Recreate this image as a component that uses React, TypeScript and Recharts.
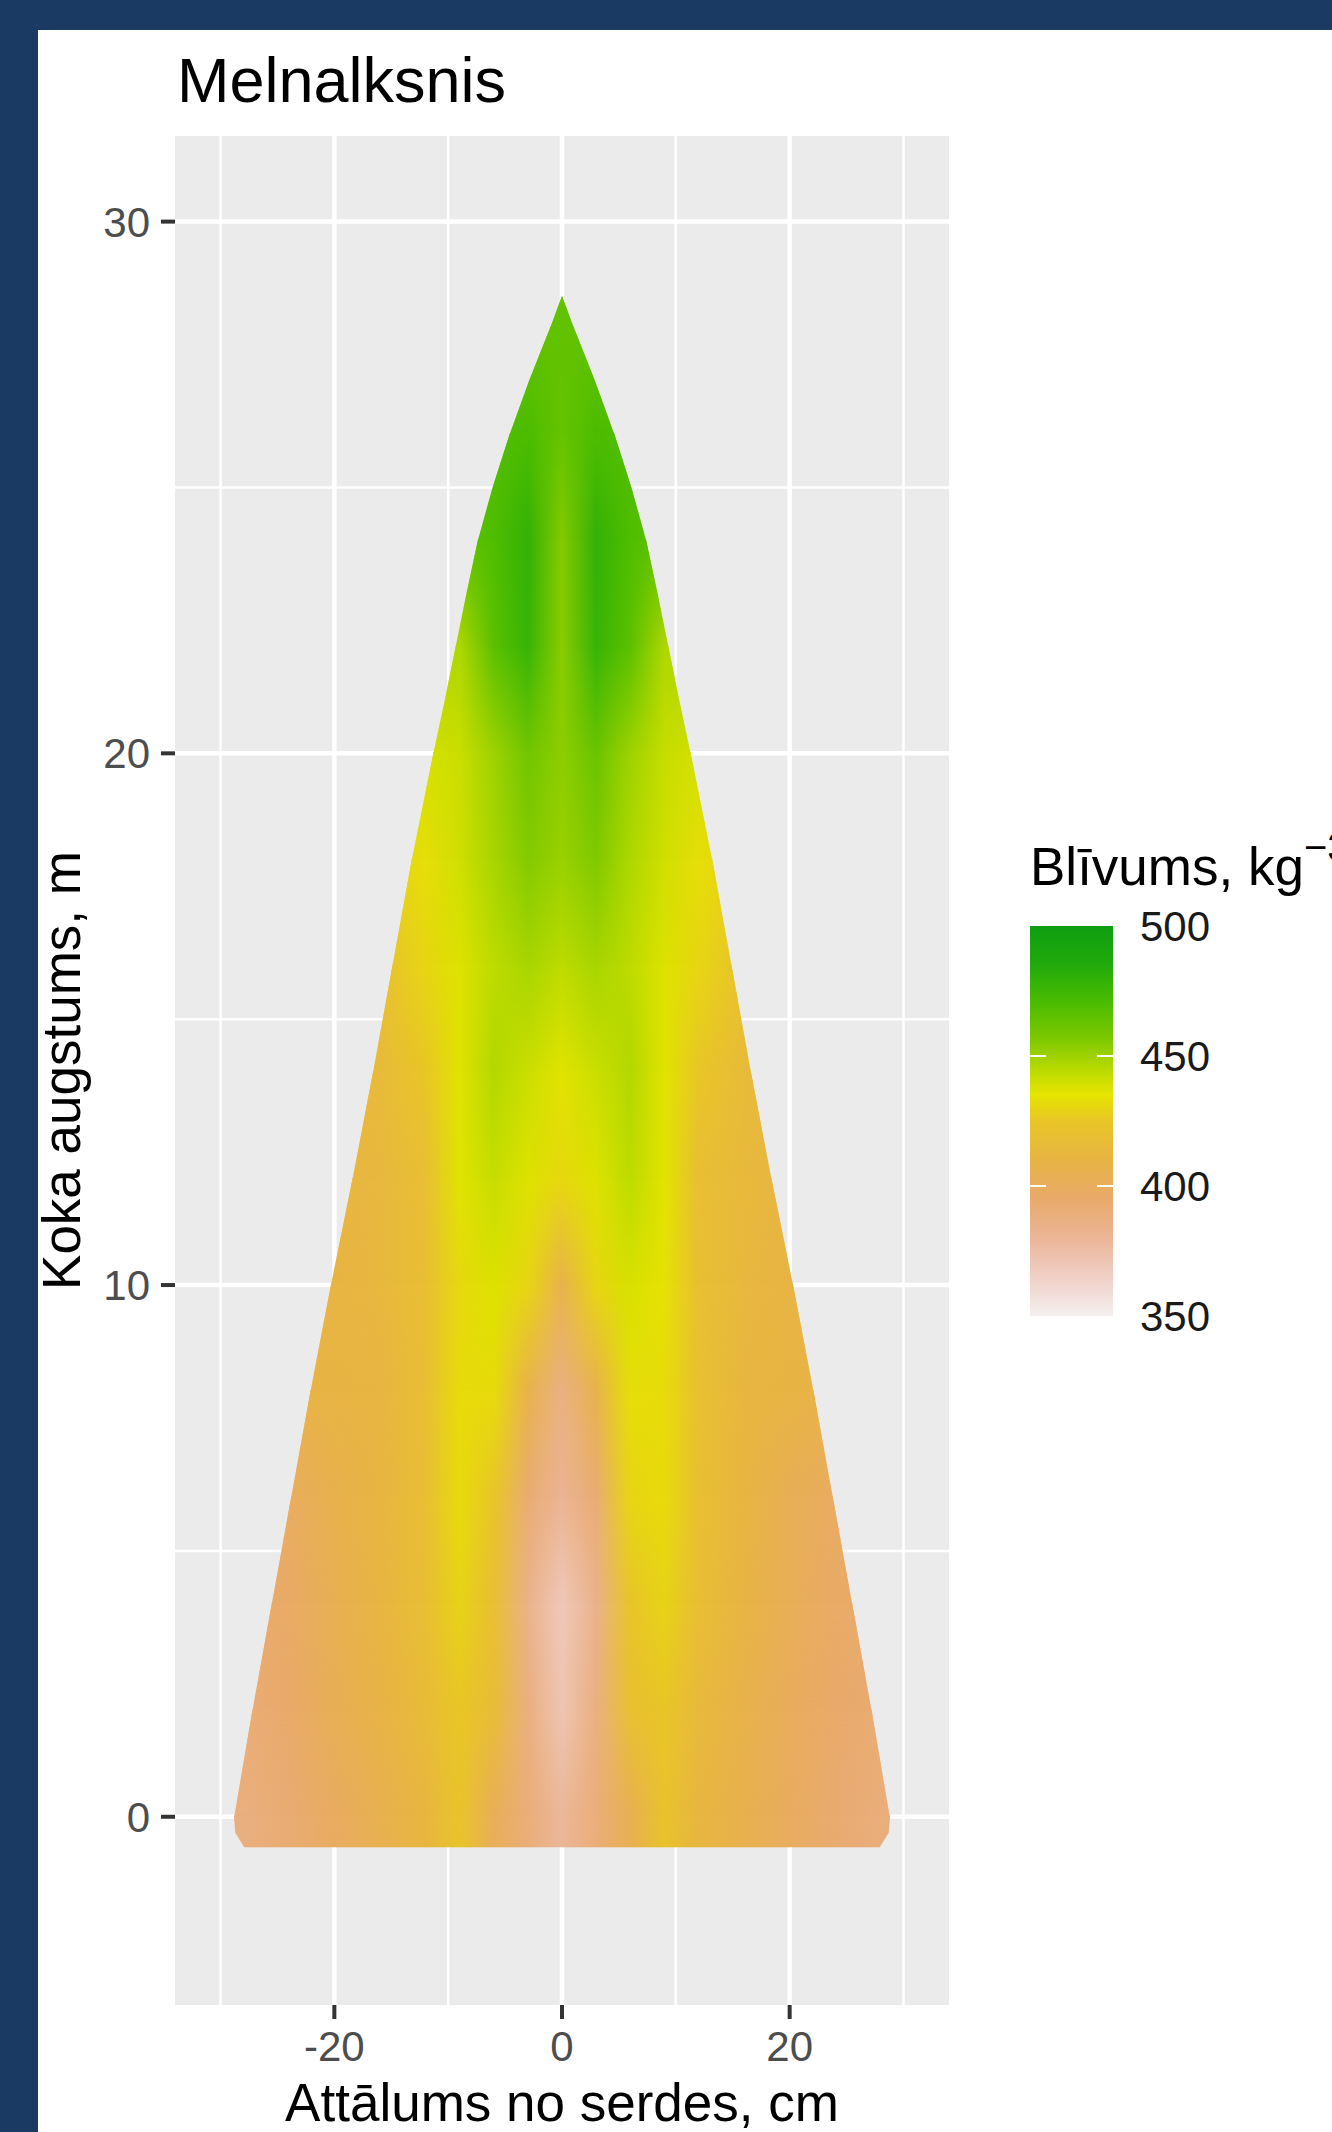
import React from 'react';
import { ScatterChart, Scatter, XAxis, YAxis, CartesianGrid, ReferenceArea, Legend } from 'recharts';

const FONT = "'Liberation Sans', Arial, Helvetica, sans-serif";

const TITLE = 'Melnalksnis';
const X_LABEL = 'Attālums no serdes, cm';
const Y_LABEL = 'Koka augstums, m';
const LEGEND_TITLE = 'Blīvums, kg';
const LEGEND_SUP = '−3';

const X_TICKS = [-20, 0, 20];
const X_MINOR = [-30, -10, 10, 30];
const Y_TICKS = [0, 10, 20, 30];
const Y_MINOR = [5, 15, 25];
const X_DOMAIN: [number, number] = [-34, 34];
const Y_DOMAIN: [number, number] = [-3.54, 31.61];

// distance from pith (cm) of each density column
const COLS = [-28, -24, -20, -16, -12, -9, -6, -3, 0, 3, 6, 9, 12, 16, 20, 24, 28];

// stem heights (m) of the density rows
const HEIGHTS = [0, 2, 4, 6, 8, 10, 12, 14, 16, 18, 20, 22, 24, 26, 28];

// density (kg m-3), one row per stem height
const ROW_00 = [388, 392, 398, 405, 412, 423, 402, 390, 379, 390, 404, 422, 412, 406, 399, 393, 389];
const ROW_02 = [391, 395, 403, 409, 416, 425, 417, 388, 371, 388, 420, 424, 414, 407, 400, 395, 392];
const ROW_04 = [394, 396, 404, 411, 418, 429, 419, 384, 369, 384, 424, 429, 418, 410, 402, 396, 394];
const ROW_06 = [null, 399, 406, 411, 418, 432, 424, 392, 381, 392, 430, 432, 419, 411, 403, 398, null];
const ROW_08 = [null, 408, 410, 411, 418, 432, 432, 407, 387, 407, 433, 432, 420, 412, 410, 408, null];
const ROW_10 = [null, null, 410, 413, 418, 431, 437, 430, 407, 430, 438, 434, 419, 413, 410, null, null];
const ROW_12 = [null, null, 411, 413, 418, 436, 442, 437, 431, 437, 444, 436, 418, 414, 411, null, null];
const ROW_14 = [null, null, null, 415, 425, 436, 446, 441, 436, 441, 446, 436, 425, 415, null, null, null];
const ROW_16 = [null, null, null, 419, 430, 437, 444, 448, 444, 448, 444, 437, 430, 421, null, null, null];
const ROW_18 = [null, null, null, 428, 433, 440, 448, 455, 451, 456, 447, 440, 433, 429, null, null, null];
const ROW_20 = [null, null, null, null, 439, 441, 450, 460, 453, 462, 450, 442, 439, null, null, null, null];
const ROW_22 = [null, null, null, null, null, 447, 466, 477, 454, 477, 466, 447, null, null, null, null, null];
const ROW_24 = [null, null, null, null, null, 465, 469, 479, 455, 479, 469, 465, null, null, null, null, null];
const ROW_26 = [null, null, null, null, null, null, 468, 470, 463, 470, 468, null, null, null, null, null, null];
const ROW_28 = [null, null, null, null, null, null, null, 464, 464, 464, null, null, null, null, null, null, null];

const DENSITY_ROWS: (number | null)[][] = [
  ROW_00, ROW_02, ROW_04, ROW_06, ROW_08, ROW_10, ROW_12, ROW_14,
  ROW_16, ROW_18, ROW_20, ROW_22, ROW_24, ROW_26, ROW_28,
];

// stem outline: height (m) and half-width (cm)
const OUTLINE_H = [-0.58, -0.3, 0, 2, 4, 6, 8, 10, 12, 14, 16, 18, 20, 21, 22, 23, 24, 25, 26, 27, 28, 28.6];
const OUTLINE_W = [27.9, 28.7, 28.8, 27.2, 25.5, 23.8, 22.1, 20.3, 18.4, 16.6, 14.9, 13.2, 11.3, 10.3, 9.35, 8.4, 7.4, 6.1, 4.6, 2.9, 1.05, 0.0];

// colour bar
const LEGEND_TICKS = [500, 450, 400, 350];
const LEGEND_MIN = 350;
const LEGEND_MAX = 500;
const PAL_V = [350, 365, 380, 395, 410, 425, 435, 445, 455, 470, 485, 500];
const PAL_C = ['#f4f0f0', '#f0cfc6', '#ebb597', '#e9aa6a', '#e8b444', '#e8c626', '#e6e400', '#b8da00', '#84ca00', '#4cbc00', '#22aa0c', '#0e9e10'];

function hexRgb(h: string) {
  return [parseInt(h.slice(1, 3), 16), parseInt(h.slice(3, 5), 16), parseInt(h.slice(5, 7), 16)];
}
function densityColor(v: number) {
  const vv = Math.max(PAL_V[0], Math.min(PAL_V[PAL_V.length - 1], v));
  let i = 0;
  while (i < PAL_V.length - 2 && vv > PAL_V[i + 1]) i++;
  const t = (vv - PAL_V[i]) / (PAL_V[i + 1] - PAL_V[i]);
  const a = hexRgb(PAL_C[i]);
  const b = hexRgb(PAL_C[i + 1]);
  const c = a.map((x, k) => Math.round(x + (b[k] - x) * t));
  return `rgb(${c[0]},${c[1]},${c[2]})`;
}

const HALF_W = Math.max(...OUTLINE_W) + 0.4;
const H_BOT = OUTLINE_H[0];
const H_TOP = OUTLINE_H[OUTLINE_H.length - 1];

type Band = { k: number; hb: number; ht: number; lo: (number | null)[]; hi: (number | null)[] };
const BAND_EDGES = [H_BOT, ...HEIGHTS, H_TOP];
const BANDS: Band[] = BAND_EDGES.slice(0, -1).map((hb, k) => {
  const last = DENSITY_ROWS.length - 1;
  const lo = DENSITY_ROWS[Math.max(0, Math.min(k - 1, last))];
  const hi = DENSITY_ROWS[Math.min(k, last)];
  return { k, hb, ht: BAND_EDGES[k + 1], lo, hi };
});

const OUTLINE_POINTS = OUTLINE_H.map((h, i) => ({ x: OUTLINE_W[i], y: h }));

function gradientFor(id: string, row: (number | null)[], px: (c: number) => number) {
  const pts = COLS.map((c, i) => ({ c, v: row[i] })).filter((p) => p.v !== null) as { c: number; v: number }[];
  const c0 = pts[0].c;
  const c1 = pts[pts.length - 1].c;
  return (
    <linearGradient id={id} gradientUnits="userSpaceOnUse" x1={px(c0)} y1={0} x2={px(c1)} y2={0}>
      {pts.map((p, i) => (
        <stop key={i} offset={(p.c - c0) / (c1 - c0)} stopColor={densityColor(p.v)} />
      ))}
    </linearGradient>
  );
}

// clip path of the stem outline, placed through the chart's scales
function StemClip(props: any) {
  const { x, y, width, height } = props;
  if (!(width > 0) || !(height > 0)) return <g />;
  const px = (w: number) => x + ((w + HALF_W) / (2 * HALF_W)) * width;
  const py = (h: number) => y + ((H_TOP - h) / (H_TOP - H_BOT)) * height;
  const right = OUTLINE_H.map((h, i) => `${px(OUTLINE_W[i])},${py(h)}`);
  const left = OUTLINE_H.map((h, i) => `${px(-OUTLINE_W[i])},${py(h)}`).reverse();
  return (
    <defs>
      <clipPath id="stemclip">
        <polygon points={[...right, ...left].join(' ')} />
      </clipPath>
    </defs>
  );
}

function HeatBand(props: any) {
  const { x, y, width, height, band } = props;
  const b: Band = band;
  if (!(width > 0) || !(height > 0)) return <g />;
  const px = (c: number) => x + ((c + HALF_W) / (2 * HALF_W)) * width;
  const isTop = b.k === BANDS.length - 1;
  const yTop = isTop ? y - 2 : y - 1.2;
  const yBot = y + height;
  const id = `hm${b.k}`;
  return (
    <g clipPath="url(#stemclip)">
      <defs>
        {gradientFor(`${id}lo`, b.lo, px)}
        {gradientFor(`${id}hi`, b.hi, px)}
        <linearGradient id={`${id}mg`} gradientUnits="userSpaceOnUse" x1={0} y1={yBot} x2={0} y2={y}>
          <stop offset={0} stopColor="#ffffff" stopOpacity={0} />
          <stop offset={1} stopColor="#ffffff" stopOpacity={1} />
        </linearGradient>
        <mask id={`${id}mk`} maskUnits="userSpaceOnUse" x={x - 4} y={yTop - 4} width={width + 8} height={yBot - yTop + 8}>
          <rect x={x - 4} y={yTop - 4} width={width + 8} height={yBot - yTop + 8} fill={`url(#${id}mg)`} />
        </mask>
      </defs>
      <rect x={x} y={yTop} width={width} height={yBot - yTop} fill={`url(#${id}lo)`} />
      <rect x={x} y={yTop} width={width} height={yBot - yTop} fill={`url(#${id}hi)`} mask={`url(#${id}mk)`} />
    </g>
  );
}

function XTitle(props: any) {
  const vb = props.viewBox || { x: 175, y: 2005, width: 774, height: 127 };
  return (
    <text x={vb.x + vb.width / 2} y={vb.y + 116} textAnchor="middle" fontSize={53} fontFamily={FONT} fill="#000">
      {X_LABEL}
    </text>
  );
}

function YTitle(props: any) {
  const vb = props.viewBox || { x: 0, y: 136, width: 175, height: 1869 };
  const cx = vb.x + 80;
  const cy = vb.y + vb.height / 2;
  return (
    <text x={cx} y={cy} transform={`rotate(-90 ${cx} ${cy})`} textAnchor="middle" fontSize={53} fontFamily={FONT} fill="#000">
      {Y_LABEL}
    </text>
  );
}

function ColorBarLegend() {
  const barX = 30;
  const barY = 106;
  const barW = 83;
  const barH = 390;
  const yOf = (v: number) => barY + ((LEGEND_MAX - v) / (LEGEND_MAX - LEGEND_MIN)) * barH;
  const stops = PAL_V.map((v, i) => ({ off: (LEGEND_MAX - v) / (LEGEND_MAX - LEGEND_MIN), col: PAL_C[i] })).sort((a, b) => a.off - b.off);
  return (
    <svg width={332} height={520} style={{ display: 'block', overflow: 'hidden' }}>
      <defs>
        <linearGradient id="cbar" x1={0} y1={0} x2={0} y2={1}>
          {stops.map((s, i) => (
            <stop key={i} offset={s.off} stopColor={s.col} />
          ))}
        </linearGradient>
      </defs>
      <text x={barX} y={65} fontSize={53} fontFamily={FONT} fill="#000">
        {LEGEND_TITLE}
        <tspan fontSize={40} dy={-24}>{LEGEND_SUP}</tspan>
      </text>
      <rect x={barX} y={barY} width={barW} height={barH} fill="url(#cbar)" />
      {LEGEND_TICKS.filter((v) => v > LEGEND_MIN && v < LEGEND_MAX).map((v) => (
        <g key={v}>
          <line x1={barX} x2={barX + 16} y1={yOf(v)} y2={yOf(v)} stroke="#fff" strokeWidth={2} />
          <line x1={barX + barW - 16} x2={barX + barW} y1={yOf(v)} y2={yOf(v)} stroke="#fff" strokeWidth={2} />
        </g>
      ))}
      {LEGEND_TICKS.map((v) => (
        <text key={v} x={140} y={yOf(v)} dy="0.36em" fontSize={42} fontFamily={FONT} fill="#1a1a1a">
          {v}
        </text>
      ))}
    </svg>
  );
}

export default function App() {
  return (
    <div style={{ position: 'absolute', left: 0, top: 0, width: 1332, height: 2132, overflow: 'hidden', background: '#1b3a63' }}>
      <div style={{ position: 'absolute', left: 38, top: 30, right: 0, bottom: 0, background: '#ffffff' }} />
      <div style={{ position: 'absolute', left: 0, top: 0 }}>
        <ScatterChart width={1332} height={2132} margin={{ top: 136, right: 383, bottom: 0, left: 0 }}>
          <CartesianGrid
            fill="#ebebeb"
            stroke="#ffffff"
            strokeWidth={2.5}
            horizontalValues={Y_MINOR}
            verticalValues={X_MINOR}
          />
          <CartesianGrid
            stroke="#ffffff"
            strokeWidth={4.5}
            horizontalValues={Y_TICKS}
            verticalValues={X_TICKS}
          />
          <XAxis
            type="number"
            dataKey="x"
            domain={X_DOMAIN}
            allowDataOverflow
            ticks={X_TICKS}
            height={127}
            axisLine={false}
            tickSize={14}
            tickMargin={12}
            tickLine={{ stroke: '#333333', strokeWidth: 4 }}
            tick={{ fill: '#4d4d4d', fontSize: 42, fontFamily: FONT }}
            label={<XTitle />}
          />
          <YAxis
            type="number"
            dataKey="y"
            domain={Y_DOMAIN}
            allowDataOverflow
            ticks={Y_TICKS}
            width={175}
            axisLine={false}
            tickSize={14}
            tickMargin={11}
            tickLine={{ stroke: '#333333', strokeWidth: 4 }}
            tick={{ fill: '#4d4d4d', fontSize: 42, fontFamily: FONT }}
            label={<YTitle />}
          />
          <ReferenceArea
            x1={-HALF_W}
            x2={HALF_W}
            y1={H_BOT}
            y2={H_TOP}
            ifOverflow="visible"
            shape={(p: any) => <StemClip {...p} />}
          />
          {BANDS.map((b) => (
            <ReferenceArea
              key={b.k}
              x1={-HALF_W}
              x2={HALF_W}
              y1={b.hb}
              y2={b.ht}
              ifOverflow="visible"
              shape={(p: any) => <HeatBand {...p} band={b} />}
            />
          ))}
          <Scatter data={OUTLINE_POINTS} isAnimationActive={false} shape={() => <g />} legendType="none" />
          <Legend
            layout="horizontal"
            verticalAlign="middle"
            align="center"
            content={<ColorBarLegend />}
            wrapperStyle={{ left: 1000, top: 820, width: 332, height: 520 }}
          />
        </ScatterChart>
      </div>
      <svg width={1332} height={140} style={{ position: 'absolute', left: 0, top: 0, pointerEvents: 'none' }}>
        <text x={177} y={102} fontSize={63} fontFamily={FONT} fill="#000">
          {TITLE}
        </text>
      </svg>
    </div>
  );
}
